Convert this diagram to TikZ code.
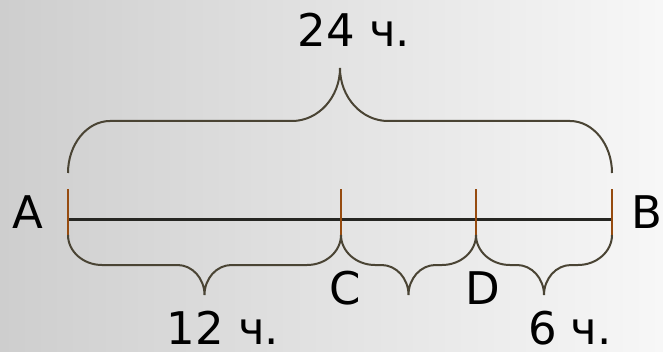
\documentclass[tikz,border=0pt]{standalone}
\usepackage{fontspec}
\setmainfont{DejaVu Sans}
\usepackage{tikz}
\usetikzlibrary{calc}
\definecolor{tickbrown}{RGB}{150, 75, 15}
\definecolor{bracegray}{RGB}{74, 68, 52}
\definecolor{linegray}{RGB}{38, 38, 34}
\definecolor{bgleft}{RGB}{206, 206, 206}
\definecolor{bgright}{RGB}{247, 247, 247}

% geschweifte Klammer: #1,#2 Endpunkte, #3 Eckbreite, #4 Eckhoehe, #5 halbe Spitzenbreite, #6 Spitzenhoehe
\newcommand{\klammer}[6]{%
	\draw[brace line] let \p1=(#1), \p2=(#2), \n1={(\x1+\x2)/2} in
		(\p1) .. controls +(0,0.55*#4) and +(-0.55*#3,0) .. (\x1+#3,\y1+#4)
		-- (\n1-#5,\y1+#4) .. controls +(0.55*#5,0) and +(0,-0.55*#6) .. (\n1,\y1+#4+#6)
		.. controls +(0,-0.55*#6) and +(-0.55*#5,0) .. (\n1+#5,\y1+#4)
		-- (\x2-#3,\y1+#4) .. controls +(0.55*#3,0) and +(0,0.55*#4) .. (\p2);
}

\begin{document}
\begin{tikzpicture}[x=1pt, y=1pt,
				font=\fontsize{45}{54}\selectfont,
				segment line/.style={linegray, line width=3pt},
				tick line/.style={tickbrown, line width=2pt},
				brace line/.style={bracegray, line width=2pt}]
				\useasboundingbox (0,0) rectangle (663,351);
				% Hintergrund
				\fill[left color=bgleft, right color=bgright] (0,0) rectangle (663,351);
				% Punkte der Strecke
				\coordinate (A) at (68,132);
				\coordinate (C) at (341,132);
				\coordinate (D) at (476,132);
				\coordinate (B) at (612,132);
				% Strecke zeichnen
				\draw[segment line] (A) -- (B);
				% Teilstriche
				\foreach \p in {A,C,D,B} \draw[tick line] (\p) ++(0,30) -- ++(0,-46) coordinate (\p-unten);
				% Klammern oben und unten
				\klammer{$(A)+(0,46)$}{$(B)+(0,46)$}{42}{52}{48}{53}
				\klammer{A-unten}{C-unten}{34}{-30}{27}{-30}
				\klammer{C-unten}{D-unten}{34}{-30}{27}{-30}
				\klammer{D-unten}{B-unten}{34}{-30}{27}{-30}
				% Beschriftung
				\node (lblA) at (28,139) {A};
				\node (lblB) at (647,139) {B};
				\node (lblC) at (345,63) {C};
				\node (lblD) at (483,63) {D};
				\node (lbl24) at (354,321) {24 ч.};
				\node (lbl12) at (223,23) {12 ч.};
				\node (lbl6) at (570,23) {6 ч.};
\end{tikzpicture}
\end{document}
